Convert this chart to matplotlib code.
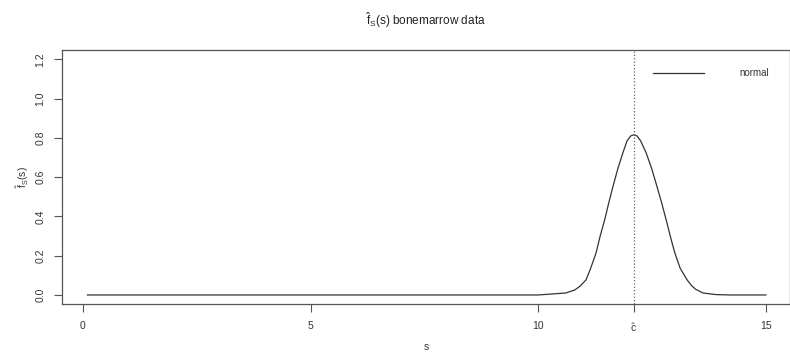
import matplotlib
matplotlib.use("Agg")
import matplotlib.pyplot as plt

# density estimate
s_vals = [0.1, 10.0, 10.6, 10.8, 10.92, 11.05, 11.15, 11.27, 11.36, 11.46, 11.55, 11.64,
          11.75, 11.86, 11.95, 12.03, 12.1, 12.17, 12.25, 12.37, 12.49, 12.61, 12.71,
          12.81, 12.9, 13.0, 13.12, 13.27, 13.36, 13.45, 13.62, 13.9, 14.2, 15.0]
f_vals = [0.0, 0.0, 0.01, 0.025, 0.045, 0.077, 0.135, 0.214, 0.30, 0.383, 0.47, 0.551,
          0.645, 0.724, 0.785, 0.81, 0.816, 0.81, 0.785, 0.724, 0.645, 0.551, 0.47,
          0.383, 0.30, 0.214, 0.135, 0.077, 0.05, 0.03, 0.01, 0.002, 0.0, 0.0]
c_hat = 12.1
x_ticks = [0, 5, 10, 15]
y_ticks = [0.0, 0.2, 0.4, 0.6, 0.8, 1.0, 1.2]

plt.rcParams['font.family'] = ['Liberation Sans', 'DejaVu Sans']
plt.rcParams['mathtext.default'] = 'regular'
txt = '#333333'
axc = '#555555'

fig = plt.figure(figsize=(7.9, 3.53), dpi=100)
ax = fig.add_axes([0.0785, 0.1377, 0.9215, 0.7207])

ax.plot(s_vals, f_vals, color='#333333', lw=0.9, label='normal')
ax.axvline(c_hat, color='#666666', lw=0.9, ls=':')

ax.set_xlim(-0.46, 15.53)
ax.set_ylim(-0.048, 1.248)
ax.set_xticks(x_ticks + [c_hat])
ax.set_xticklabels([str(t) for t in x_ticks] + [r'$\hat{c}$'])
ax.set_yticks(y_ticks)
ax.set_yticklabels([f'{t:.1f}' for t in y_ticks], rotation=90, va='center')

ax.tick_params(direction='out', length=6, width=0.8, color=axc, labelcolor=txt,
               labelsize=7.5, pad=6)
for sp in ax.spines.values():
    sp.set_color(axc)
    sp.set_linewidth(0.9)

ax.set_xlabel('s', fontsize=7.5, color=txt, labelpad=6)
ax.set_ylabel(r'$\hat{f}_S(s)$', fontsize=7.5, color=txt, labelpad=3)
ax.set_title(r'$\hat{f}_S(s)$ bonemarrow data', fontsize=8.5, color='#222222', pad=18)

ax.legend(loc='center left', bbox_to_anchor=(0.812, 0.9096), frameon=False,
          borderpad=0, borderaxespad=0, handlelength=5.2, handletextpad=3.7,
          fontsize=7, labelcolor=txt)

fig.savefig('out.png', dpi=100)
